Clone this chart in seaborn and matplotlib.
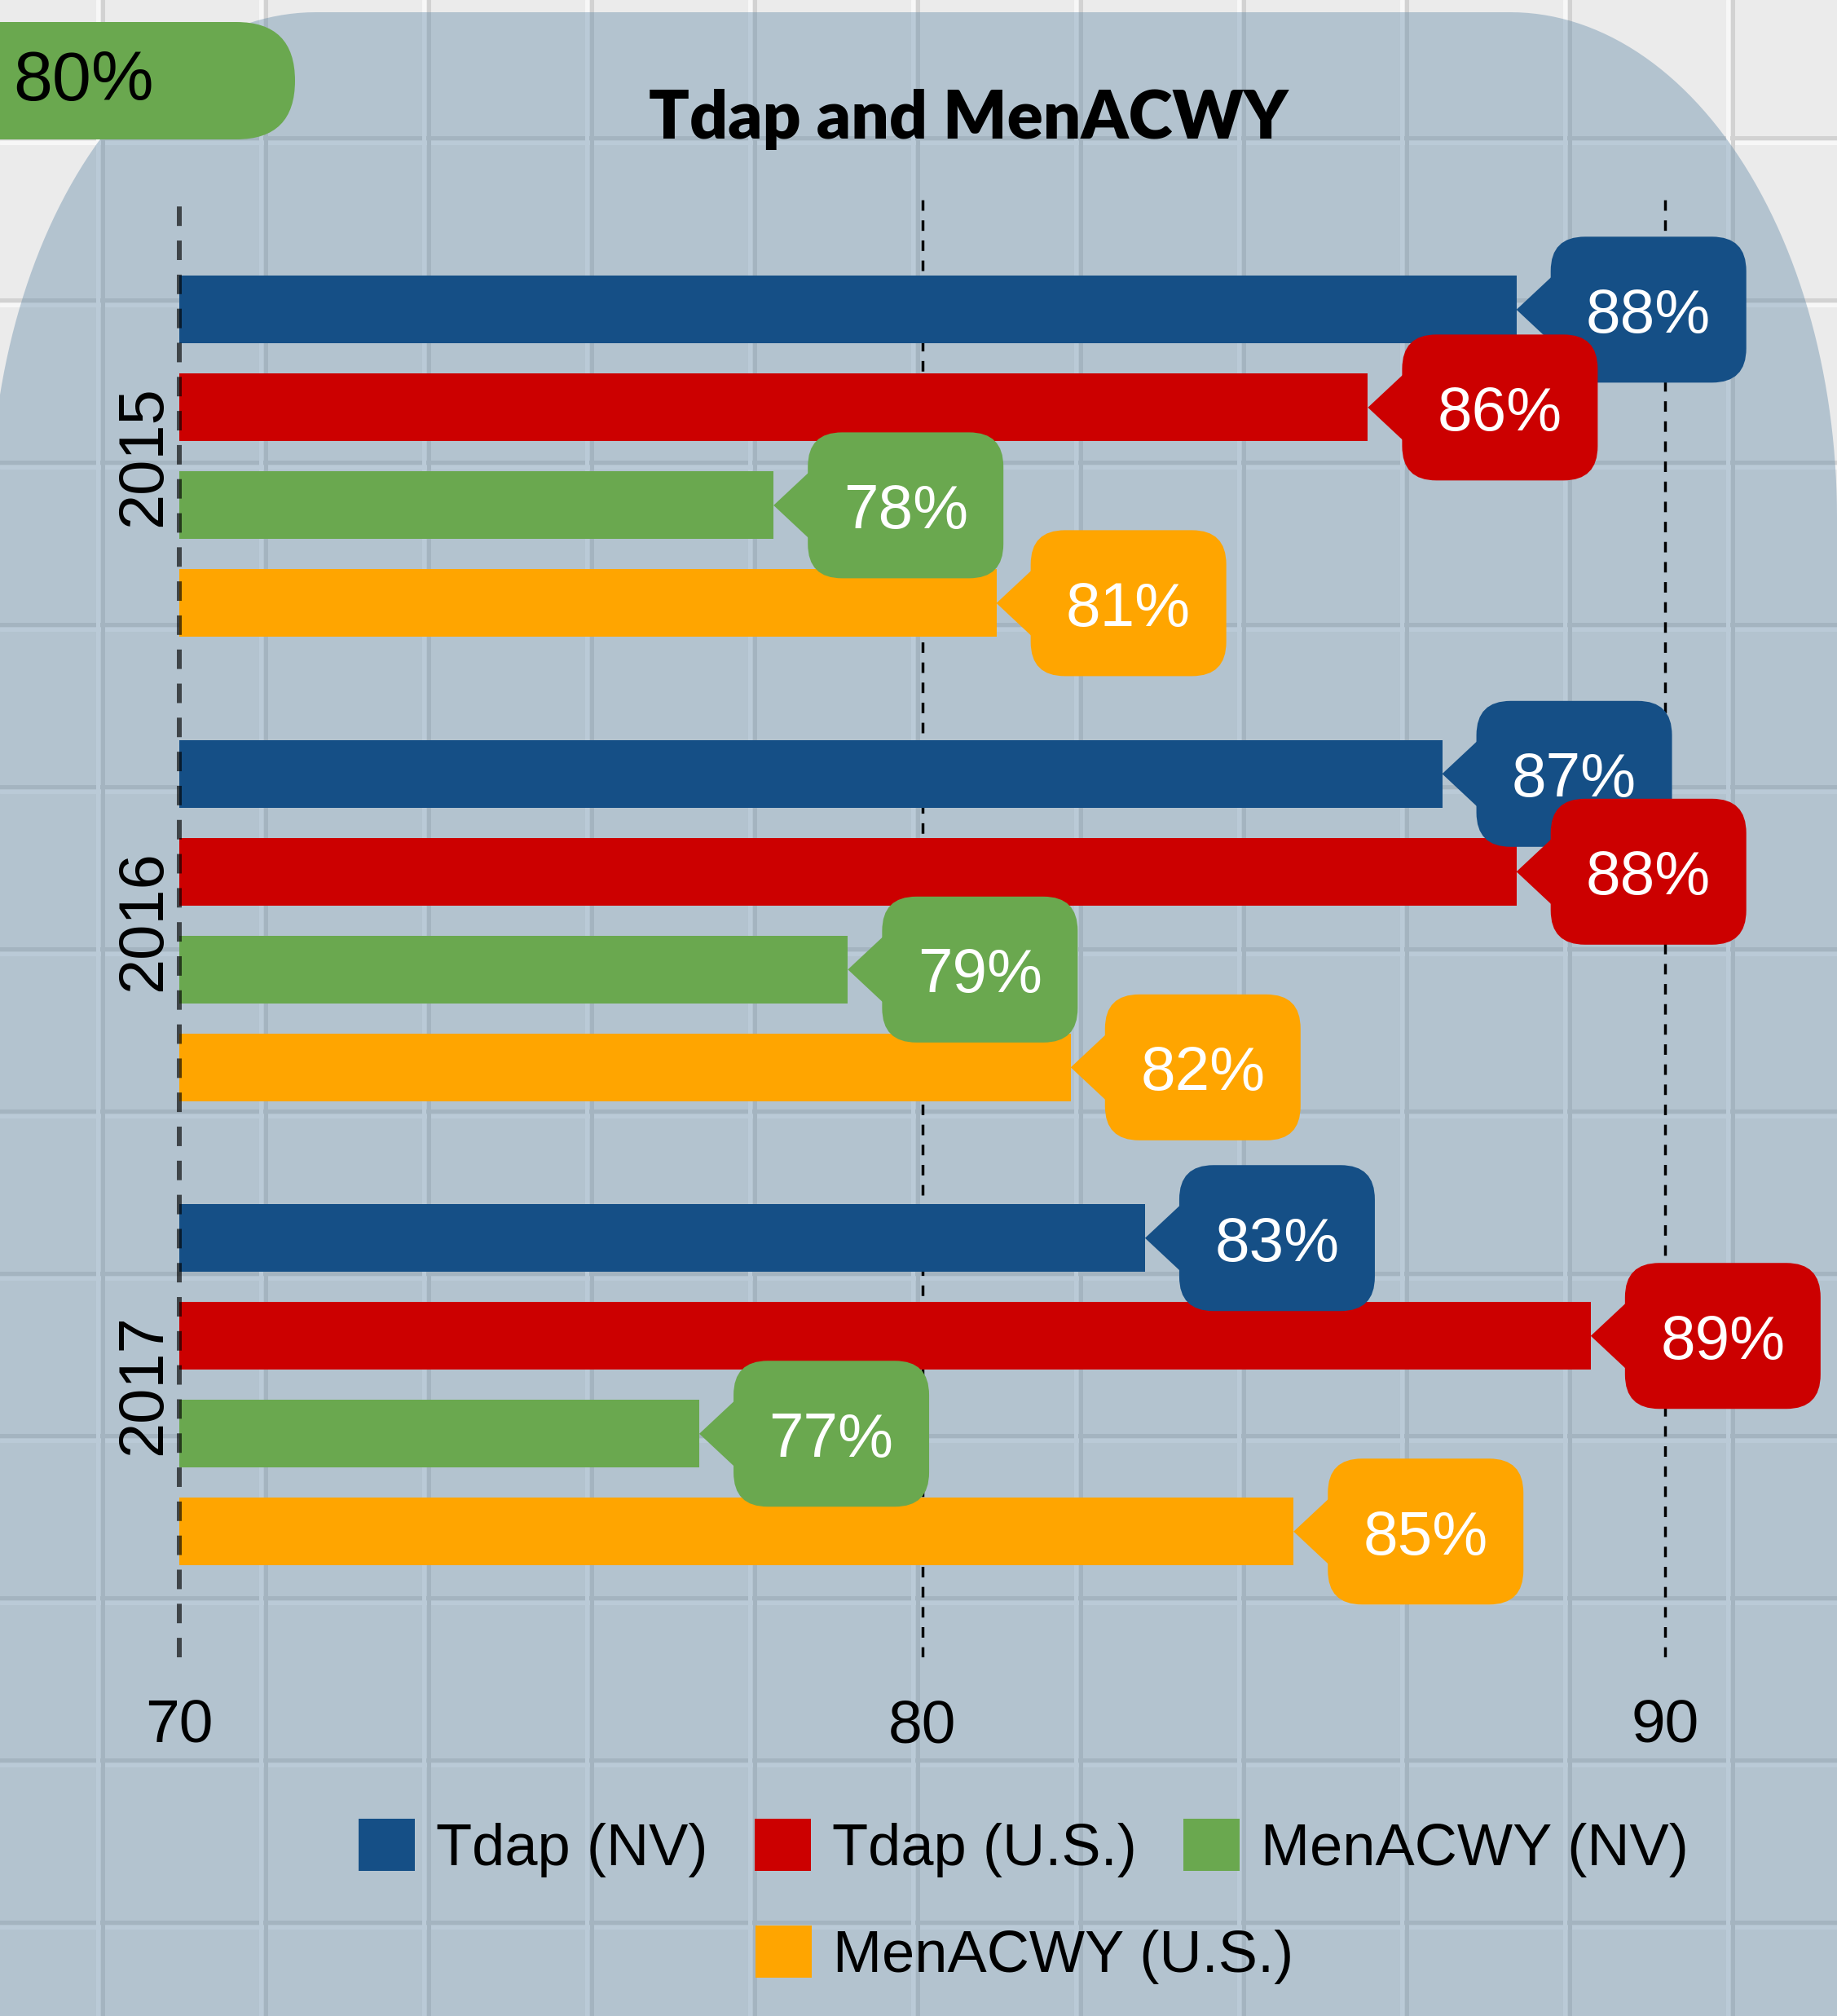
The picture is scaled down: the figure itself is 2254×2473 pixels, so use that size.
import numpy as np
import pandas as pd
import seaborn as sns
import matplotlib.pyplot as plt
import matplotlib.transforms as mtransforms
from matplotlib.patches import FancyBboxPatch, Polygon, Patch

# data
years = ["2015", "2016", "2017"]
series = ["Tdap (NV)", "Tdap (U.S.)", "MenACWY (NV)", "MenACWY (U.S.)"]
tdap_nv = [88, 87, 83]
tdap_us = [86, 88, 89]
menacwy_nv = [78, 79, 77]
menacwy_us = [81, 82, 85]
colors = ["#154f86", "#cc0000", "#6aa84f", "#ffa500"]
x_ticks = [70, 80, 90]
title = "Tdap and MenACWY"
badge_text = "80%"

df = pd.DataFrame({
    "year": years * len(series),
    "series": np.repeat(series, len(years)),
    "value": tdap_nv + tdap_us + menacwy_nv + menacwy_us,
})

W, H = 2254, 2473
sns.set_style("white")
plt.rcParams["font.family"] = ["Liberation Sans", "DejaVu Sans"]
for k in ["text.color", "xtick.color", "ytick.color", "axes.labelcolor"]:
    plt.rcParams[k] = "black"

fig = plt.figure(figsize=(W / 100, H / 100), dpi=100)
fig.patch.set_facecolor("#ebebeb")

# background: tiled wall + rounded panel (pixel coords)
bg = fig.add_axes([0, 0, 1, 1], zorder=-5)
bg.set_xlim(0, W)
bg.set_ylim(H, 0)
bg.axis("off")
for y in np.arange(169 - 199, H + 199, 199):
    bg.axhline(y, color="#d2d2d2", lw=3.6, zorder=0)
    bg.axhline(y + 6, color="#f7f7f7", lw=3.6, zorder=0)
for x in np.arange(126 - 200, W + 200, 200):
    bg.axvline(x - 6, color="#f7f7f7", lw=3.6, zorder=0)
    bg.axvline(x, color="#d2d2d2", lw=3.6, zorder=0)

t1 = np.linspace(np.pi, np.pi / 2, 60)
t2 = np.linspace(np.pi / 2, 0, 60)
left = np.column_stack([388 + 400 * np.cos(t1), 635 - 620 * np.sin(t1)])
right = np.column_stack([1853 + 401 * np.cos(t2), 635 - 620 * np.sin(t2)])
verts = np.vstack([[-12, H + 10], left, right, [2254, H + 10]])
bg.add_patch(Polygon(verts, closed=True, facecolor="#5f87a7", alpha=0.4,
                     edgecolor="none", zorder=2))

bg.add_patch(FancyBboxPatch((-100, 27), 462, 144, boxstyle="round,pad=0,rounding_size=72",
                            fc="#6aa84f", ec="none", zorder=3))
bg.text(16, 123, badge_text, fontsize=62, ha="left", va="baseline", color="black", zorder=4)

# main chart
ax = fig.add_axes([220 / W, 1 - 2033 / H, (W - 220) / W, (2033 - 237) / H])
sns.barplot(data=df, x="value", y="year", hue="series", orient="h", palette=colors,
            hue_order=series, order=years, width=0.843, gap=0.31, linewidth=0,
            saturation=1, errorbar=None, legend=False, ax=ax, zorder=3)
ax.set_facecolor("none")
xmax = 70 + (W - 220) / 91.15
ax.set_xlim(70, xmax)
ax.set_ylim(2.587, -0.567)
ax.set_xticks(x_ticks)
ax.set_xlabel("")
ax.set_ylabel("")
for s in ax.spines.values():
    s.set_visible(False)
ax.tick_params(axis="x", length=0, pad=36, labelsize=54)
ax.tick_params(axis="y", length=0, pad=5, labelsize=56, labelrotation=90)
for lab in ax.get_yticklabels():
    lab.set_va("center")

for v in x_ticks[1:]:
    ax.axvline(v, color="black", lw=2.5, dashes=(3.7, 3.4), zorder=1)
ax.axvline(x_ticks[0], ymax=0.993, color="black", alpha=0.65, lw=4.3, dashes=(4, 3),
           zorder=4, clip_on=False)

# speech-bubble value labels
bars = sorted(ax.patches, key=lambda p: p.get_y() + p.get_height() / 2)
sc = fig.dpi / 100
for i, bar in enumerate(bars):
    v = bar.get_width()
    yc = bar.get_y() + bar.get_height() / 2
    c = bar.get_facecolor()
    tr = mtransforms.Affine2D().scale(sc) + mtransforms.ScaledTranslation(v, yc, ax.transData)
    z = 10 + i * 0.1
    ax.add_patch(Polygon([(0, 0), (46, 43), (46, -43)], closed=True, fc=c, ec="none",
                         transform=tr, zorder=z, clip_on=False))
    ax.add_patch(FancyBboxPatch((42, -89.5), 240, 179, boxstyle="round,pad=0,rounding_size=42",
                                fc=c, ec="none", transform=tr, zorder=z, clip_on=False))
    ax.annotate(f"{v:.0f}%", xy=(v, yc), xytext=(162 * 0.72, -28 * 0.72),
                textcoords="offset points", ha="center", va="baseline", color="white",
                fontsize=55, zorder=z + 0.05, annotation_clip=False)
ax.set_xlim(70, xmax)
ax.set_ylim(2.587, -0.567)

fig.text(1188 / W, 1 - 170 / H, title, ha="center", va="baseline", fontsize=59,
         fontweight="heavy", family=["Lato", "DejaVu Sans"])

handles = [Patch(facecolor=c, edgecolor="none", label=s) for c, s in zip(colors, series)]
kw = dict(loc="center", frameon=False, fontsize=52, handlelength=0.95, handleheight=0.98,
          handletextpad=0.36, columnspacing=0.8, borderpad=0, borderaxespad=0)
fig.legend(handles=handles[:3], ncol=3, bbox_to_anchor=(1256 / W, 1 - 2267 / H), **kw)
fig.legend(handles=handles[3:], ncol=1, bbox_to_anchor=(1257 / W, 1 - 2398 / H), **kw)

fig.savefig("out.png", dpi=100)
